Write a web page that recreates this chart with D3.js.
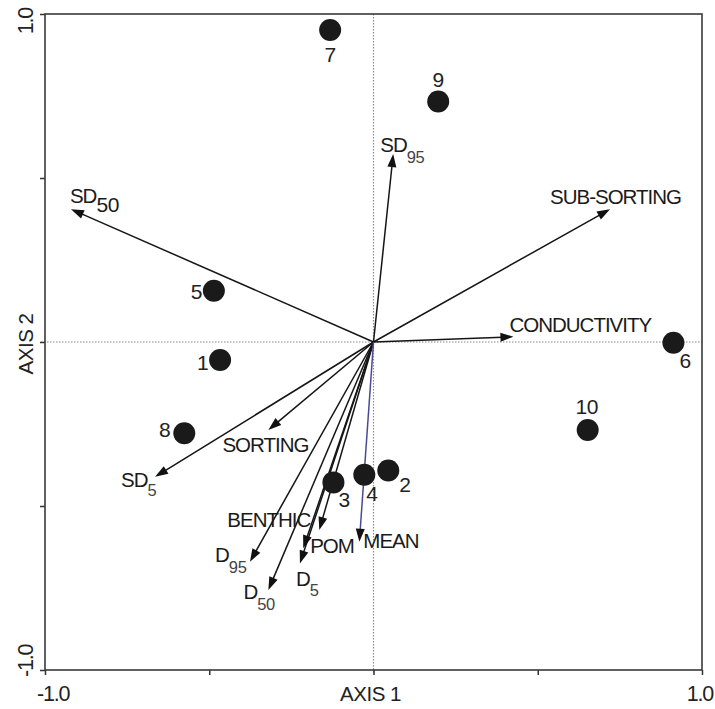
<!DOCTYPE html>
<html>
<head>
<meta charset="utf-8">
<script src="https://cdn.jsdelivr.net/npm/d3@7"></script>
<style>
  html, body { margin: 0; padding: 0; background: #ffffff; }
  text { font-family: "Liberation Sans", Arial, sans-serif; }
</style>
</head>
<body>
<svg id="chart" width="715" height="709"></svg>
<script>
// ---- Data ----
const siteIds  = ["1", "2", "3", "4", "5", "6", "7", "8", "9", "10"];
const siteAx1  = [-0.467, 0.045, -0.122, -0.028, -0.486, 0.913, -0.132, -0.576, 0.197, 0.652];
const siteAx2  = [-0.055, -0.392, -0.428, -0.405, 0.156, -0.002, 0.951, -0.278, 0.733, -0.268];

const varNames = ["SD50", "SD95", "SUB-SORTING", "CONDUCTIVITY", "SORTING", "SD5", "D95", "D50", "D5", "BENTHIC", "POM", "MEAN"];
const varAx1   = [-0.921, 0.060, 0.720, 0.426, -0.320, -0.665, -0.376, -0.320, -0.224, -0.165, -0.214, -0.043];
const varAx2   = [0.405, 0.573, 0.405, 0.016, -0.268, -0.411, -0.670, -0.756, -0.675, -0.573, -0.629, -0.609];

const tickValues = [-1, -0.5, 0, 0.5, 1];
const axisTitles = ["AXIS 1", "AXIS 2"];
const endLabels  = ["-1.0", "1.0"];

// ---- Layout (label placement, not data) ----
const siteLabelLayout = {
  "1": {dx: -12, dy: 10, anchor: "end"},
  "2": {dx: 11, dy: 21, anchor: "start"},
  "3": {dx: 5, dy: 25, anchor: "start"},
  "4": {dx: 2, dy: 26, anchor: "start"},
  "5": {dx: -12, dy: 8, anchor: "end"},
  "6": {dx: 6, dy: 25, anchor: "start"},
  "7": {dx: 0, dy: 32, anchor: "middle"},
  "8": {dx: -14, dy: 4, anchor: "end"},
  "9": {dx: 0, dy: -15, anchor: "middle"},
  "10": {dx: -1, dy: -16, anchor: "middle"}
};
const varLabelLayout = {
  "SD50":         {main: "SD", sub: "50", dx: -1, dy: -6, anchor: "start", subSize: 21, subDy: 9},
  "SD95":         {main: "SD", sub: "95", dx: -13, dy: -2, anchor: "start", subSize: 16.5, subDy: 11},
  "SUB-SORTING":  {main: "SUB-SORTING", dx: -60, dy: -5, anchor: "start"},
  "CONDUCTIVITY": {main: "CONDUCTIVITY", dx: -4, dy: -5, anchor: "start"},
  "SORTING":      {main: "SORTING", dx: -46, dy: 22, anchor: "start"},
  "SD5":          {main: "SD", sub: "5", dx: -34, dy: 10, anchor: "start", subSize: 16.5, subDy: 9},
  "D95":          {main: "D", sub: "95", dx: -35, dy: 0, anchor: "start", subSize: 16.5, subDy: 11},
  "D50":          {main: "D", sub: "50", dx: -25, dy: 9, anchor: "start", subSize: 16.5, subDy: 11},
  "D5":           {main: "D", sub: "5", dx: -4, dy: 23, anchor: "start", subSize: 16.5, subDy: 10},
  "BENTHIC":      {main: "BENTHIC", dx: -9, dy: -3, anchor: "end"},
  "POM":          {main: "POM", dx: 7, dy: 5, anchor: "start"},
  "MEAN":         {main: "MEAN", dx: 4, dy: 6, anchor: "start"}
};

const sites = siteIds.map((id, i) => ({id, x: siteAx1[i], y: siteAx2[i]}));
const vars  = varNames.map((n, i) => ({name: n, x: varAx1[i], y: varAx2[i]}));

const svg = d3.select("#chart");
const x = d3.scaleLinear().domain([-1, 1]).range([45, 702]);
const y = d3.scaleLinear().domain([-1, 1]).range([670, 14]);

// zero reference lines (dotted)
svg.append("line")
  .attr("x1", x(-1) - 4).attr("x2", x(1))
  .attr("y1", y(0)).attr("y2", y(0))
  .attr("stroke", "#8a8a8a").attr("stroke-width", 1.2).attr("stroke-dasharray", "1.5,1.5");
svg.append("line")
  .attr("x1", x(0)).attr("x2", x(0))
  .attr("y1", y(1)).attr("y2", y(-1) + 4)
  .attr("stroke", "#8a8a8a").attr("stroke-width", 1.2).attr("stroke-dasharray", "1.5,1.5");

// axes (ticks only)
const axL = svg.append("g").attr("transform", `translate(${x(-1)},0)`)
  .call(d3.axisLeft(y).tickValues(tickValues).tickSize(5).tickFormat(""));
const axB = svg.append("g").attr("transform", `translate(0,${y(-1)})`)
  .call(d3.axisBottom(x).tickValues(tickValues).tickSize(5).tickFormat(""));
[axL, axB].forEach(g => {
  g.selectAll("path.domain").remove();
  g.selectAll("line").attr("stroke", "#333").attr("stroke-width", 1.5);
});

// frame
svg.append("rect")
  .attr("x", x(-1)).attr("y", y(1))
  .attr("width", x(1) - x(-1)).attr("height", y(-1) - y(1))
  .attr("fill", "none").attr("stroke", "#3a3a3a").attr("stroke-width", 1.6);

// tick end labels
const axisFont = 21.5;
svg.append("text").attr("x", x(-1) - 8).attr("y", 701).attr("text-anchor", "start")
  .attr("font-size", axisFont).attr("letter-spacing", -1.2).attr("fill", "#222").text(endLabels[0]);
svg.append("text").attr("x", x(1) + 11).attr("y", 701).attr("text-anchor", "end")
  .attr("font-size", axisFont).attr("letter-spacing", -1.2).attr("fill", "#222").text(endLabels[1]);
svg.append("text").attr("transform", `translate(33,${y(-1) + 7}) rotate(-90)`).attr("text-anchor", "start")
  .attr("font-size", axisFont).attr("letter-spacing", -1.2).attr("fill", "#222").text(endLabels[0]);
svg.append("text").attr("transform", `translate(33,${y(1) - 6}) rotate(-90)`).attr("text-anchor", "end")
  .attr("font-size", axisFont).attr("letter-spacing", -1.2).attr("fill", "#222").text(endLabels[1]);

// axis titles
svg.append("text").attr("x", x(0) - 3).attr("y", 701).attr("text-anchor", "middle")
  .attr("font-size", 20.5).attr("letter-spacing", -0.5).attr("fill", "#222").text(axisTitles[0]);
svg.append("text").attr("transform", `translate(33,${y(0) + 2}) rotate(-90)`).attr("text-anchor", "middle")
  .attr("font-size", 20.5).attr("letter-spacing", -0.5).attr("fill", "#222").text(axisTitles[1]);

// arrows
const headLen = 13, headHalf = 4.5;
const arrows = svg.append("g");
vars.forEach(v => {
  const x0 = x(0), y0 = y(0), x1 = x(v.x), y1 = y(v.y);
  const dx = x1 - x0, dy = y1 - y0, L = Math.hypot(dx, dy);
  const ux = dx / L, uy = dy / L;
  const bx = x1 - ux * headLen, by = y1 - uy * headLen;
  const color = v.name === "MEAN" ? "#4a4a94" : "#151515";
  arrows.append("line")
    .attr("x1", x0).attr("y1", y0).attr("x2", bx + ux * 2).attr("y2", by + uy * 2)
    .attr("stroke", color).attr("stroke-width", 1.5);
  arrows.append("path")
    .attr("d", `M${x1},${y1}L${bx - uy * headHalf},${by + ux * headHalf}L${bx + uy * headHalf},${by - ux * headHalf}Z`)
    .attr("fill", "#111");
});

// variable labels
const labels = svg.append("g");
vars.forEach(v => {
  const L = varLabelLayout[v.name];
  const t = labels.append("text")
    .attr("x", x(v.x) + L.dx).attr("y", y(v.y) + L.dy)
    .attr("text-anchor", L.anchor)
    .attr("font-size", 20.5).attr("letter-spacing", -1).attr("fill", "#1a1a1a");
  t.append("tspan").text(L.main);
  if (L.sub) {
    t.append("tspan").attr("dy", L.subDy).attr("font-size", L.subSize)
      .attr("letter-spacing", -0.3)
      .attr("fill", L.subSize >= 20 ? "#1a1a1a" : "#444").text(L.sub);
  }
});

// sites
svg.append("g").selectAll("circle").data(sites).join("circle")
  .attr("cx", d => x(d.x)).attr("cy", d => y(d.y)).attr("r", 11)
  .attr("fill", "#1a1a1a");
svg.append("g").selectAll("text").data(sites).join("text")
  .attr("x", d => x(d.x) + siteLabelLayout[d.id].dx)
  .attr("y", d => y(d.y) + siteLabelLayout[d.id].dy)
  .attr("text-anchor", d => siteLabelLayout[d.id].anchor)
  .attr("font-size", 21).attr("letter-spacing", -0.5).attr("fill", "#222")
  .text(d => d.id);
</script>
</body>
</html>
